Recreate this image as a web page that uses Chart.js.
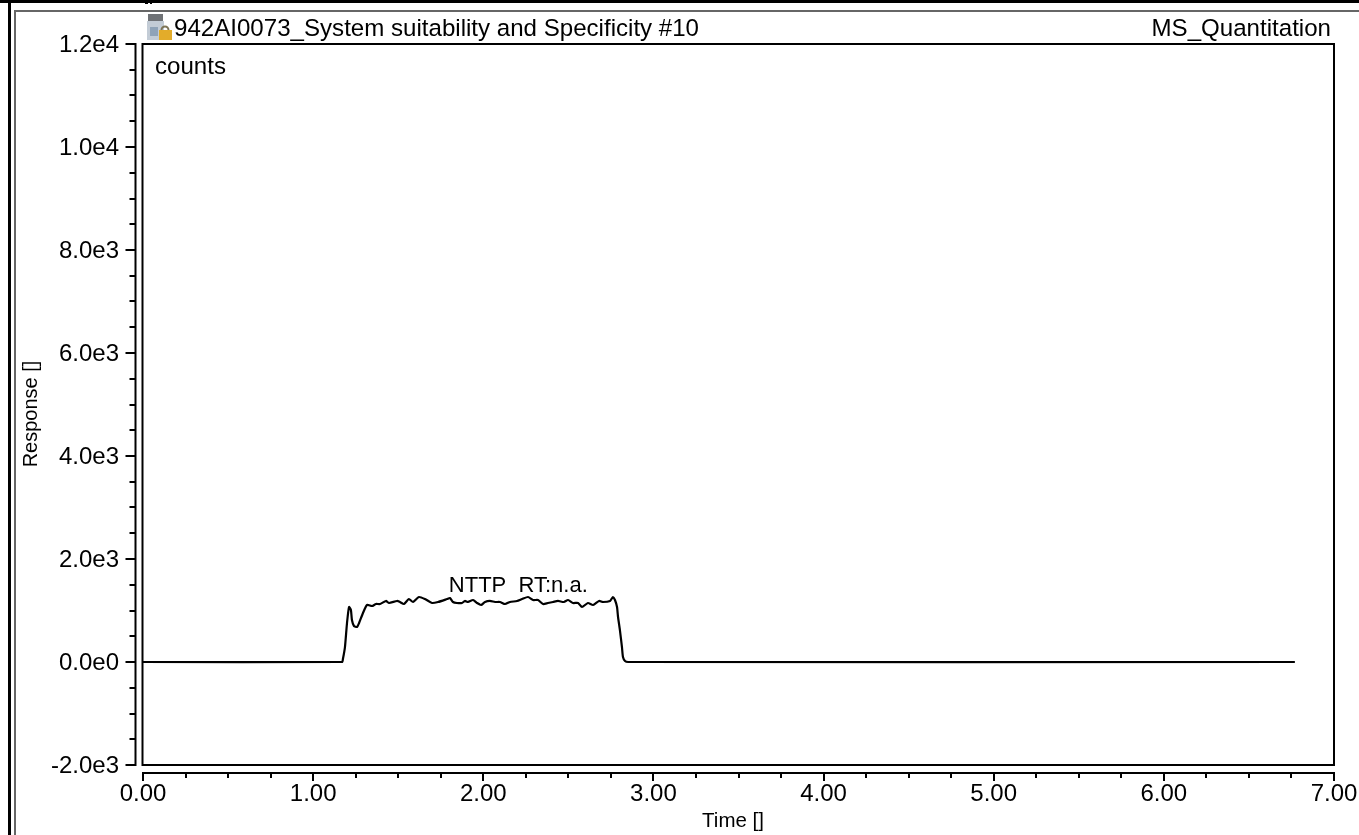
<!DOCTYPE html>
<html>
<head>
<meta charset="utf-8">
<title>MS_Quantitation</title>
<script src="https://cdn.jsdelivr.net/npm/chart.js@4/dist/chart.umd.min.js"></script>
<style>
    html, body { margin: 0; padding: 0; background: #fff; overflow: hidden; }
    canvas { display: block; }
</style>
</head>
<body>
<canvas id="myChart" width="1359" height="835"></canvas>
<script>
// --- Data ---
const times = [0, 1.170, 1.175, 1.187, 1.199, 1.211, 1.222, 1.228, 1.240, 1.258, 1.270, 1.293, 1.317, 1.346, 1.369, 1.393,
    1.428, 1.446, 1.493, 1.510, 1.534, 1.563, 1.587, 1.622, 1.657, 1.699, 1.734, 1.787, 1.804, 1.822, 1.845, 1.875,
    1.892, 1.910, 1.940, 1.963, 1.987, 2.010, 2.039, 2.069, 2.098, 2.128, 2.157, 2.198, 2.228, 2.263, 2.292, 2.322,
    2.351, 2.380, 2.410, 2.439, 2.474, 2.498, 2.527, 2.557, 2.580, 2.615, 2.645, 2.680, 2.703, 2.745, 2.762, 2.774,
    2.786, 2.792, 2.803, 2.815, 2.821, 2.833, 2.851, 6.77];
const responses = [0, 0, 58, 291, 757, 1068, 1010, 816, 699, 680, 757, 952, 1107, 1087, 1126, 1126,
    1185, 1146, 1185, 1165, 1126, 1223, 1165, 1262, 1223, 1146, 1165, 1223, 1243, 1165, 1146, 1146,
    1185, 1165, 1204, 1146, 1107, 1165, 1185, 1165, 1165, 1126, 1165, 1185, 1223, 1262, 1204, 1204,
    1126, 1146, 1165, 1185, 1165, 1204, 1146, 1146, 1068, 1146, 1107, 1185, 1165, 1185, 1262, 1204,
    1068, 874, 621, 291, 97, 19, 0, 0];
const xTickLabels = ['0.00', '1.00', '2.00', '3.00', '4.00', '5.00', '6.00', '7.00'];
const yTickLabels = ['-2.0e3', '0.0e0', '2.0e3', '4.0e3', '6.0e3', '8.0e3', '1.0e4', '1.2e4'];
const chartTitle = '942AI0073_System suitability and Specificity #10';
const methodName = 'MS_Quantitation';
const unitLabel = 'counts';
const peakLabel = 'NTTP  RT:n.a.';
const xAxisTitle = 'Time []';
const yAxisTitle = 'Response []';

const FONT = '"Liberation Sans", Arial, sans-serif';

// Instrument software look: window frame, plot box, offset axes and header text
const reportPlugin = {
    id: 'report',
    beforeDraw(chart) {
        const c = chart.ctx;
        c.save();
        c.fillStyle = '#000';
        c.fillRect(0, 0, 1359, 3);
        c.fillRect(8, 0, 3, 835);
        c.fillRect(145, 3, 3, 1);
        c.fillRect(150, 3, 2, 1);
        c.fillStyle = '#666';
        c.fillRect(15, 10, 1344, 2);
        c.fillRect(14, 10, 2, 825);
        c.restore();
    },
    afterDraw(chart) {
        const c = chart.ctx;
        const area = chart.chartArea;
        const xs = chart.scales.x;
        const ys = chart.scales.y;
        const axisX = area.left - 7.5;
        const axisY = area.bottom + 8;
        c.save();
        c.strokeStyle = '#000';
        c.lineWidth = 2;
        c.strokeRect(area.left - 0.5, area.top, area.width + 0.5, area.height);

        // offset y axis
        c.beginPath();
        c.moveTo(axisX, ys.getPixelForValue(-2000) + 1);
        c.lineTo(axisX, ys.getPixelForValue(12000) - 1);
        ys.ticks.forEach((t, i) => {
            const py = Math.round(ys.getPixelForTick(i));
            c.moveTo(axisX, py);
            c.lineTo(axisX - (i % 4 === 0 ? 10 : 6), py);
        });
        // offset x axis
        c.moveTo(xs.getPixelForValue(0) - 1, axisY);
        c.lineTo(xs.getPixelForValue(7) + 1, axisY);
        xs.ticks.forEach((t, i) => {
            const px = Math.round(xs.getPixelForTick(i));
            c.moveTo(px, axisY);
            c.lineTo(px, axisY + (i % 4 === 0 ? 8 : 5));
        });
        c.stroke();

        // vial with padlock icon
        c.fillStyle = '#6f7276';
        c.fillRect(148, 14, 15, 7);
        c.fillStyle = '#c3ccd6';
        c.fillRect(147, 21, 17, 19);
        c.fillStyle = '#8fa3b8';
        c.fillRect(150, 27, 8, 9);
        c.strokeStyle = '#7d7456';
        c.lineWidth = 2;
        c.beginPath();
        c.arc(165, 30, 3.5, Math.PI, 0);
        c.stroke();
        c.fillStyle = '#e3ac2a';
        c.fillRect(159, 30, 13, 10);

        // text
        c.fillStyle = '#000';
        c.font = '24.1px ' + FONT;
        c.textBaseline = 'alphabetic';
        c.textAlign = 'left';
        c.fillText(chartTitle, 174, 36);
        c.fillText(unitLabel, 155, 74);
        c.textAlign = 'right';
        c.fillText(methodName, 1331, 36);
        c.font = '22px ' + FONT;
        c.textAlign = 'center';
        c.fillText(peakLabel, xs.getPixelForValue(2.2) + 1, ys.getPixelForValue(1350));

        // axis titles
        c.font = '20.5px ' + FONT;
        c.fillText(xAxisTitle, 733, 827);
        c.font = '20px ' + FONT;
        c.translate(37, 414);
        c.rotate(-Math.PI / 2);
        c.fillText(yAxisTitle, 0, 0);
        c.restore();
    }
};

// --- Chart Initialization ---
const ctx = document.getElementById('myChart');

const myChart = new Chart(ctx, {
    type: 'line',
    data: {
        datasets: [{
            label: 'NTTP',
            data: times.map((t, i) => ({ x: t, y: responses[i] })),
            borderColor: '#000',
            borderWidth: 2.2,
            pointRadius: 0,
            tension: 0.2,
            clip: false,
        }]
    },
    options: {
        responsive: false,
        animation: false,
        layout: { padding: { top: 44, right: 25 } },
        plugins: {
            legend: { display: false },
            tooltip: { enabled: false }
        },
        scales: {
            x: {
                type: 'linear',
                min: 0,
                max: 7,
                afterFit: (scale) => { scale.height = 70; scale.paddingRight = 0; scale.paddingLeft = 0; },
                grid: { display: false },
                border: { display: false },
                ticks: {
                    stepSize: 0.25,
                    autoSkip: false,
                    maxRotation: 0,
                    padding: 7,
                    color: '#000',
                    font: { family: FONT, size: 24 },
                    callback: (v, i) => (i % 4 === 0 ? xTickLabels[i / 4] : '')
                }
            },
            y: {
                type: 'linear',
                min: -2000,
                max: 12000,
                afterFit: (scale) => { scale.width = 143; scale.paddingTop = 0; scale.paddingBottom = 0; },
                grid: { display: false },
                border: { display: false },
                ticks: {
                    stepSize: 500,
                    autoSkip: false,
                    padding: 16,
                    labelOffset: 1,
                    color: '#000',
                    font: { family: FONT, size: 24 },
                    callback: (v, i) => (i % 4 === 0 ? yTickLabels[i / 4] : '')
                }
            }
        }
    },
    plugins: [reportPlugin]
});
</script>
</body>
</html>
